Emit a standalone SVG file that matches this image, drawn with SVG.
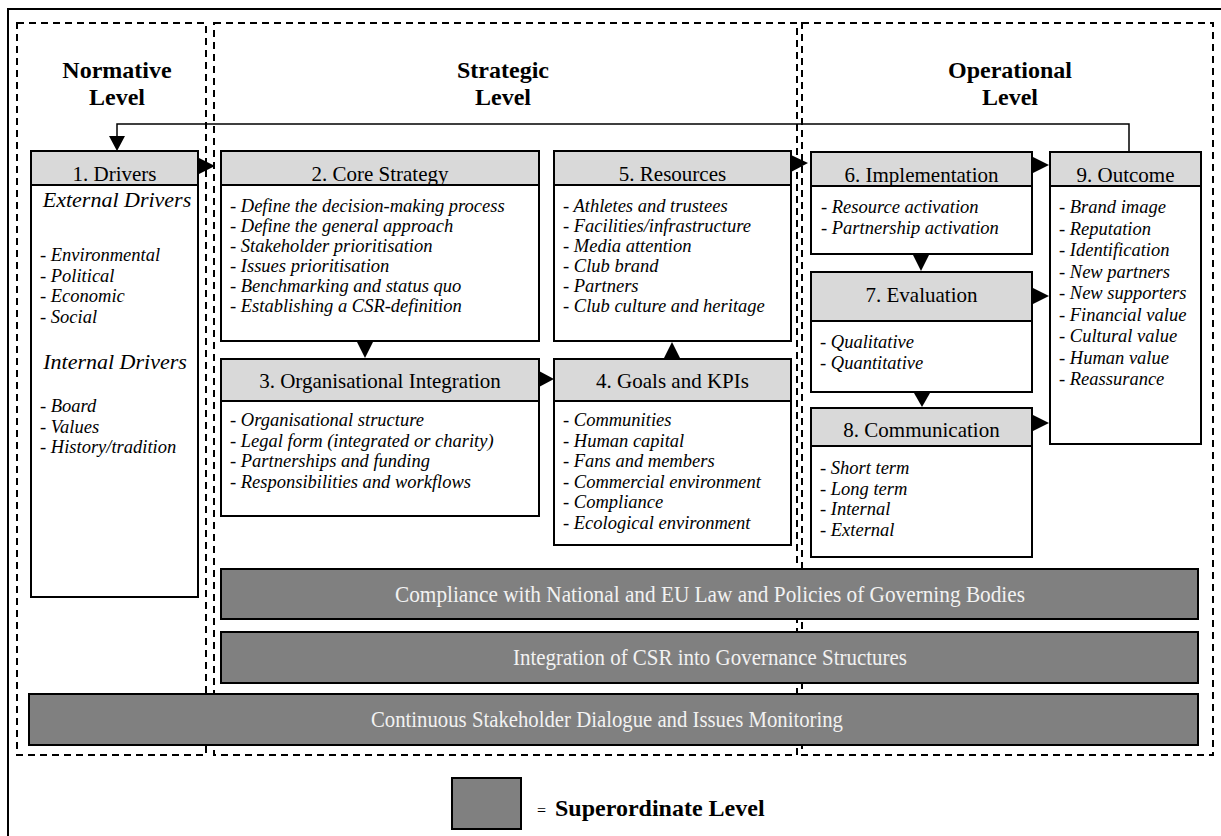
<svg xmlns="http://www.w3.org/2000/svg" width="1221" height="836" viewBox="0 0 1221 836">
<defs>
<style>
text{font-family:"Liberation Serif","Times New Roman",serif;fill:#000}
.frame{fill:none;stroke:#000;stroke-width:2}
.dash{fill:none;stroke:#000;stroke-width:2;stroke-dasharray:7 5}
.box{fill:#fff;stroke:#000;stroke-width:2}
.hdr{fill:#d9d9d9;stroke:#000;stroke-width:2}
.bar{fill:#808080;stroke:#000;stroke-width:2}
.title{font-size:24px;font-weight:bold;text-anchor:middle}
.htxt{font-size:21px;text-anchor:middle}
.it{font-size:18.5px;font-style:italic}
.sub{font-size:22px;font-style:italic;text-anchor:middle}
.btxt{font-size:23px;text-anchor:middle;fill:#f2f2f2}
.line{fill:none;stroke:#000;stroke-width:1.5}
.ah{fill:#000}
</style>
</defs>
<rect x="0" y="0" width="1221" height="836" fill="#fff"/>
<rect class="frame" x="8" y="9" width="1230" height="840"/>

<g id="levels">
<rect class="dash" x="17" y="23" width="189" height="732"/>
<rect class="dash" x="214" y="23" width="583" height="732"/>
<rect class="dash" x="802" y="23" width="411" height="732"/>
<text class="title" x="117" y="78">Normative</text>
<text class="title" x="117" y="105">Level</text>
<text class="title" x="503" y="78">Strategic</text>
<text class="title" x="503" y="105">Level</text>
<text class="title" x="1010" y="78">Operational</text>
<text class="title" x="1010" y="105">Level</text>
</g>

<g id="n1">
<rect class="box" x="31" y="151" width="167" height="446"/>
<rect class="hdr" x="31" y="151" width="167" height="34"/>
<text class="htxt" x="114.5" y="181">1. Drivers</text>
<text class="sub" x="117" y="207">External Drivers</text>
<text class="it" x="40" y="261">- Environmental</text>
<text class="it" x="40" y="281.5">- Political</text>
<text class="it" x="40" y="302">- Economic</text>
<text class="it" x="40" y="322.5">- Social</text>
<text class="sub" x="115" y="369">Internal Drivers</text>
<text class="it" x="40" y="412">- Board</text>
<text class="it" x="40" y="432.5">- Values</text>
<text class="it" x="40" y="453">- History/tradition</text>
</g>

<g id="n2">
<rect class="box" x="221" y="151" width="318" height="190"/>
<rect class="hdr" x="221" y="151" width="318" height="34"/>
<text class="htxt" x="380" y="181">2. Core Strategy</text>
<text class="it" x="230" y="212">- Define the decision-making process</text>
<text class="it" x="230" y="232">- Define the general approach</text>
<text class="it" x="230" y="252">- Stakeholder prioritisation</text>
<text class="it" x="230" y="272">- Issues prioritisation</text>
<text class="it" x="230" y="292">- Benchmarking and status quo</text>
<text class="it" x="230" y="312">- Establishing a CSR-definition</text>
</g>

<g id="n3">
<rect class="box" x="221" y="359" width="318" height="157"/>
<rect class="hdr" x="221" y="359" width="318" height="42"/>
<text class="htxt" x="380" y="388">3. Organisational Integration</text>
<text class="it" x="230" y="426">- Organisational structure</text>
<text class="it" x="230" y="446.5">- Legal form (integrated or charity)</text>
<text class="it" x="230" y="467">- Partnerships and funding</text>
<text class="it" x="230" y="487.5">- Responsibilities and workflows</text>
</g>

<g id="n4">
<rect class="box" x="554" y="359" width="237" height="186"/>
<rect class="hdr" x="554" y="359" width="237" height="42"/>
<text class="htxt" x="672.5" y="388">4. Goals and KPIs</text>
<text class="it" x="563" y="426">- Communities</text>
<text class="it" x="563" y="446.5">- Human capital</text>
<text class="it" x="563" y="467">- Fans and members</text>
<text class="it" x="563" y="487.5">- Commercial environment</text>
<text class="it" x="563" y="508">- Compliance</text>
<text class="it" x="563" y="528.5">- Ecological environment</text>
</g>

<g id="n5">
<rect class="box" x="554" y="151" width="237" height="190"/>
<rect class="hdr" x="554" y="151" width="237" height="34"/>
<text class="htxt" x="672.5" y="181">5. Resources</text>
<text class="it" x="563" y="212">- Athletes and trustees</text>
<text class="it" x="563" y="232">- Facilities/infrastructure</text>
<text class="it" x="563" y="252">- Media attention</text>
<text class="it" x="563" y="272">- Club brand</text>
<text class="it" x="563" y="292">- Partners</text>
<text class="it" x="563" y="312">- Club culture and heritage</text>
</g>

<g id="n6">
<rect class="box" x="811" y="152" width="221" height="102"/>
<rect class="hdr" x="811" y="152" width="221" height="34"/>
<text class="htxt" x="921.5" y="182">6. Implementation</text>
<text class="it" x="821" y="213">- Resource activation</text>
<text class="it" x="821" y="233.5">- Partnership activation</text>
</g>

<g id="n7">
<rect class="box" x="811" y="272" width="221" height="120"/>
<rect class="hdr" x="811" y="272" width="221" height="49"/>
<text class="htxt" x="921.5" y="302">7. Evaluation</text>
<text class="it" x="820" y="348">- Qualitative</text>
<text class="it" x="820" y="369">- Quantitative</text>
</g>

<g id="n8">
<rect class="box" x="811" y="408" width="221" height="149"/>
<rect class="hdr" x="811" y="408" width="221" height="38"/>
<text class="htxt" x="921.5" y="437">8. Communication</text>
<text class="it" x="820" y="474">- Short term</text>
<text class="it" x="820" y="494.5">- Long term</text>
<text class="it" x="820" y="515">- Internal</text>
<text class="it" x="820" y="535.5">- External</text>
</g>

<g id="n9">
<rect class="box" x="1050" y="152" width="151" height="292"/>
<rect class="hdr" x="1050" y="152" width="151" height="34"/>
<text class="htxt" x="1125.5" y="182">9. Outcome</text>
<text class="it" x="1059" y="213">- Brand image</text>
<text class="it" x="1059" y="234.5">- Reputation</text>
<text class="it" x="1059" y="256">- Identification</text>
<text class="it" x="1059" y="277.5">- New partners</text>
<text class="it" x="1059" y="299">- New supporters</text>
<text class="it" x="1059" y="320.5">- Financial value</text>
<text class="it" x="1059" y="342">- Cultural value</text>
<text class="it" x="1059" y="363.5">- Human value</text>
<text class="it" x="1059" y="385">- Reassurance</text>
</g>

<g id="bar1">
<rect class="bar" x="221" y="569" width="977" height="50"/>
<text class="btxt" x="710" y="602" textLength="630" lengthAdjust="spacingAndGlyphs">Compliance with National and EU Law and Policies of Governing Bodies</text>
</g>
<g id="bar2">
<rect class="bar" x="221" y="632" width="977" height="51"/>
<text class="btxt" x="710" y="665" textLength="394" lengthAdjust="spacingAndGlyphs">Integration of CSR into Governance Structures</text>
</g>
<g id="bar3">
<rect class="bar" x="29" y="694" width="1169" height="51"/>
<text class="btxt" x="607" y="727" textLength="472" lengthAdjust="spacingAndGlyphs">Continuous Stakeholder Dialogue and Issues Monitoring</text>
</g>

<g id="legend">
<rect class="bar" x="452" y="778" width="69" height="51"/>
<text x="537" y="816" font-size="16">=</text>
<text x="555" y="816" font-size="24" font-weight="bold">Superordinate Level</text>
</g>

<g id="connectors">
<polyline class="line" points="1129,152 1129,124 117,124 117,137"/>
<polygon class="ah" points="109,136 125,136 117,151"/>
<polygon class="ah" points="199,158 199,174 215,166"/>
<polygon class="ah" points="357,342 373,342 365,358"/>
<polygon class="ah" points="664,358 680,358 672,342"/>
<polygon class="ah" points="539,371 539,387 554,379"/>
<polygon class="ah" points="791,155 791,172 808,163"/>
<polygon class="ah" points="1033,157 1033,173 1049,165"/>
<polygon class="ah" points="913,255 929,255 921,271"/>
<polygon class="ah" points="1033,288 1033,304 1049,296"/>
<polygon class="ah" points="914,393 930,393 922,407"/>
<polygon class="ah" points="1033,415 1033,431 1049,423"/>
</g>
</svg>
